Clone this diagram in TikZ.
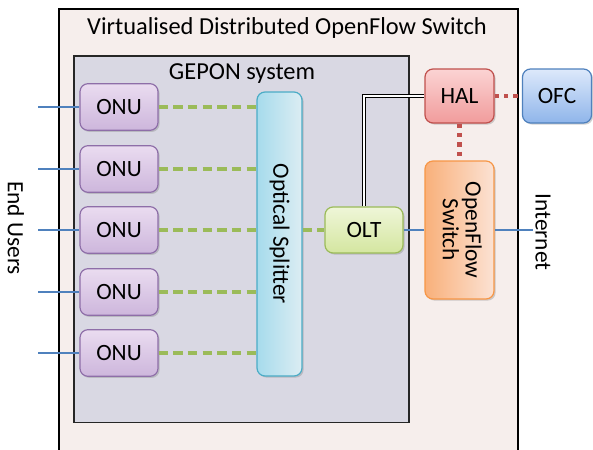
\documentclass[tikz,border=0pt]{standalone}
\usepackage{fontspec}
\setmainfont{Carlito}
\usetikzlibrary{shadows}
\definecolor{outerfill}{HTML}{F6EEEC}
\definecolor{geponfill}{HTML}{D9D8E3}
\definecolor{onutop}{HTML}{EADCF0}
\definecolor{onubot}{HTML}{CDB6DC}
\definecolor{onuline}{HTML}{8E6EA8}
\definecolor{haltop}{HTML}{FBD3D3}
\definecolor{halbot}{HTML}{F19C9C}
\definecolor{halline}{HTML}{C0504D}
\definecolor{ofctop}{HTML}{DDE9FB}
\definecolor{ofcbot}{HTML}{8FB5EA}
\definecolor{ofcline}{HTML}{4F81BD}
\definecolor{olttop}{HTML}{EFF6D8}
\definecolor{oltbot}{HTML}{D4E6A0}
\definecolor{oltline}{HTML}{9BBB59}
\definecolor{ofsleft}{HTML}{F9B07A}
\definecolor{ofsright}{HTML}{FBE2D4}
\definecolor{ofsline}{HTML}{F79646}
\definecolor{splleft}{HTML}{A6DBEC}
\definecolor{splright}{HTML}{DCEDF3}
\definecolor{splline}{HTML}{4BACC6}
\definecolor{bluelink}{HTML}{4F81BD}
\definecolor{greenlink}{HTML}{9BBB59}
\definecolor{redlink}{HTML}{C0504D}
\begin{document}
\begin{tikzpicture}[x=0.75pt,y=-0.75pt,
  box/.style={rounded corners=6pt, line width=0.9pt, inner sep=0pt, font=\fontsize{17.5}{20}\selectfont,
     drop shadow={shadow xshift=1.2pt, shadow yshift=-1.2pt, opacity=0.35}},
  onubox/.style={box, draw=onuline, top color=onutop, bottom color=onubot, minimum width=58.5pt, minimum height=35pt},
  halbox/.style={box, draw=halline, top color=haltop, bottom color=halbot, minimum width=51.75pt, minimum height=40.5pt},
  ofcbox/.style={box, draw=ofcline, top color=ofctop, bottom color=ofcbot, minimum width=51.75pt, minimum height=40.5pt},
  oltbox/.style={box, draw=oltline, top color=olttop, bottom color=oltbot, minimum width=58.5pt, minimum height=34.5pt},
  ofsbox/.style={box, draw=ofsline, left color=ofsleft, right color=ofsright, minimum width=51.75pt, minimum height=103.5pt},
  splbox/.style={box, draw=splline, left color=splleft, right color=splright, minimum width=33.75pt, minimum height=213pt},
  bluel/.style={draw=bluelink, line width=1.1pt},
  greenl/.style={draw=greenlink, line width=2.4pt, dash pattern=on 7pt off 4pt},
  redl/.style={draw=redlink, line width=3.2pt, dash pattern=on 3.4pt off 3.6pt},
  lbl/.style={font=\fontsize{18.3}{21}\selectfont}
]
\useasboundingbox (0,0) rectangle (593,450);
\clip (0,0) rectangle (593,450);
\fill[white] (0,0) rectangle (593,450);
% outer box
\node[draw=black, line width=1.5pt, fill=outerfill, minimum width=344.25pt, minimum height=352.5pt, inner sep=0pt, anchor=north west] (outer) at (58,8) {};
\node[lbl] (title) at (287,28) {Virtualised Distributed OpenFlow Switch};
% gepon box
\node[draw=black!85, line width=1.3pt, fill=geponfill, minimum width=251.25pt, minimum height=275pt, inner sep=0pt, anchor=north west] (gepon) at (73,55) {};
\node[lbl] (geptitle) at (242,74) {GEPON system};
% ONUs
\node[onubox] (onu1) at (119,107) {ONU};
\node[onubox] (onu2) at (119,169) {ONU};
\node[onubox] (onu3) at (119,230) {ONU};
\node[onubox] (onu4) at (119,292) {ONU};
\node[onubox] (onu5) at (119,353) {ONU};
% splitter
\node[splbox] (spl) at (279.5,234) {\rotatebox{-90}{Optical Splitter}};
% OLT
\node[oltbox] (olt) at (364,230) {OLT};
% HAL, OFC, OFS
\node[halbox] (hal) at (459.5,96) {HAL};
\node[ofcbox] (ofc) at (557,96) {OFC};
\node[ofsbox] (ofs) at (459.5,230) {\rotatebox{-90}{\begin{tabular}{c}OpenFlow\\[-3pt]Switch\end{tabular}}};
% external labels
\node[font=\fontsize{17.5}{20}\selectfont] (endusers) at (16,228) {\rotatebox{-90}{End Users}};
\node[font=\fontsize{17.5}{20}\selectfont] (internet) at (543,232) {\rotatebox{-90}{Internet}};
% coordinates for free ends
\foreach \i/\y in {1/107,2/169,3/230,4/292,5/353}{
  \coordinate (u\i) at (38,\y);
  \draw[bluel] (u\i) -- (onu\i.west);
  \draw[greenl] (onu\i.east) -- (onu\i.east -| spl.west);
}
\draw[greenl] (spl.east |- olt.west) -- (olt.west);
\draw[bluel] (olt.east) -- (ofs.west);
\coordinate (inet) at (533,230);
\draw[bluel] (ofs.east) -- (inet);
\coordinate (bend) at (364,96);
\draw[double=white, draw=black, line width=0.5pt, double distance=1.6pt] (olt.north) -- (bend) -- (hal.west);
\draw[redl] (hal.east) -- (ofc.west);
\draw[redl] (hal.south) -- (ofs.north);
\end{tikzpicture}
\end{document}
